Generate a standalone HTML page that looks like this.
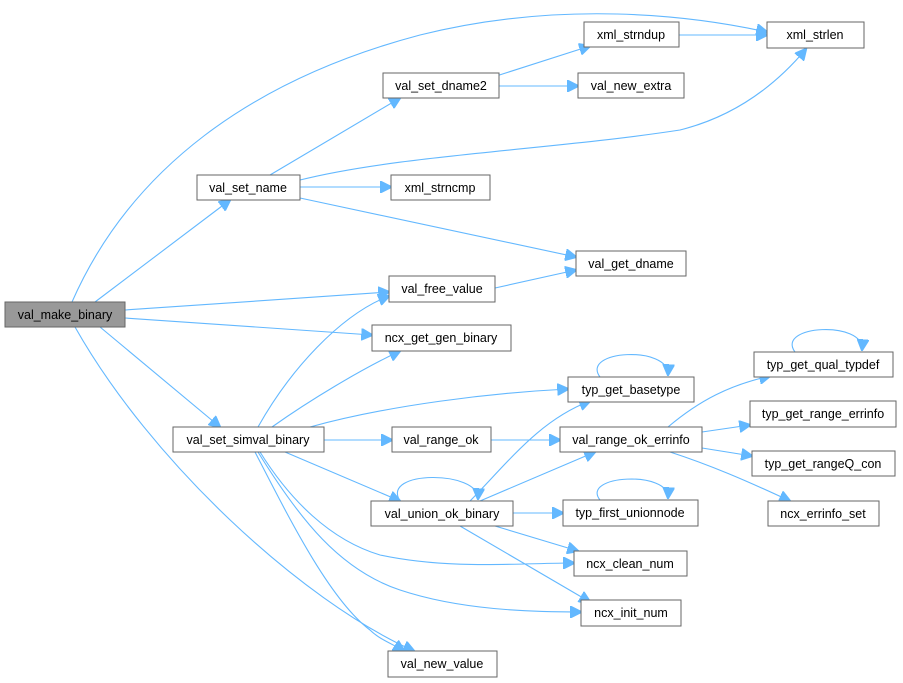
<!DOCTYPE html>
<html><head><meta charset="utf-8"><style>
html,body{margin:0;padding:0;background:#fff;}
svg{display:block}
text{font-family:"Liberation Sans",Arial,sans-serif;font-size:12.5px;fill:#000;text-anchor:middle}
.n{fill:#fff;stroke:#666;stroke-width:1}
.e{fill:none;stroke:#63b8ff;stroke-width:1.1}
</style></head><body>
<svg width="903" height="683" viewBox="0 0 903 683" xmlns="http://www.w3.org/2000/svg">
<defs><marker id="a" viewBox="0 0 10 10" refX="9" refY="5" markerWidth="12" markerHeight="12" markerUnits="userSpaceOnUse" orient="auto"><path d="M0,0 L10,5 L0,10 z" fill="#63b8ff" stroke="#63b8ff"/></marker></defs>
<g class="e" marker-end="url(#a)">
<path d="M72,302 C130,170 250,80 420,35 C560,0 690,15 767,32"/>
<path d="M95,302 L230,200"/>
<path d="M125,310 L389,292"/>
<path d="M125,318 L372,335"/>
<path d="M100,327 L220,427"/>
<path d="M75,327 C150,460 300,600 414,651"/>
<path d="M270,175 L400,98"/>
<path d="M300,187 L391,187"/>
<path d="M300,198 L576,257"/>
<path d="M300,180 C400,155 550,150 680,130 C740,115 780,80 806,49"/>
<path d="M490,78 L590,46"/>
<path d="M499,86 L578,86"/>
<path d="M679,35 L767,35"/>
<path d="M495,288 L576,270"/>
<path d="M258,427 C290,370 340,315 389,296"/>
<path d="M272,427 C310,400 360,370 400,351"/>
<path d="M310,427 C390,405 490,393 568,389"/>
<path d="M324,440 L392,440"/>
<path d="M491,440 L560,440"/>
<path d="M285,452 L400,501"/>
<path d="M260,452 C290,500 330,540 380,555 C450,570 520,563 574,563"/>
<path d="M258,452 C300,520 340,570 400,590 C460,610 530,612 581,612"/>
<path d="M255,452 C290,520 330,600 370,630 C380,640 395,645 404,651"/>
<path d="M470,501 C510,460 540,420 590,401"/>
<path d="M480,501 L595,452"/>
<path d="M513,513 L563,513"/>
<path d="M495,526 L578,551"/>
<path d="M460,526 L590,602"/>
<path d="M400,501 C380,470 480,470 478,499"/>
<path d="M600,377 C580,350 670,345 668,375"/>
<path d="M600,500 C580,475 670,470 668,498"/>
<path d="M795,352 C775,325 865,320 862,350"/>
<path d="M668,427 C700,400 730,385 770,376"/>
<path d="M702,432 L750,425"/>
<path d="M702,448 L752,456"/>
<path d="M670,452 C710,465 745,480 790,501"/>
</g>
<g>
<rect x="5" y="302" width="120" height="25" fill="#999" stroke="#666"/><text x="65" y="319">val_make_binary</text>
<rect class="n" x="197" y="175" width="103" height="25"/><text x="248" y="192">val_set_name</text>
<rect class="n" x="383" y="73" width="116" height="25"/><text x="441" y="90">val_set_dname2</text>
<rect class="n" x="584" y="22" width="95" height="25"/><text x="631" y="39">xml_strndup</text>
<rect class="n" x="767" y="22" width="97" height="26"/><text x="815" y="39">xml_strlen</text>
<rect class="n" x="578" y="73" width="106" height="25"/><text x="631" y="90">val_new_extra</text>
<rect class="n" x="391" y="175" width="99" height="25"/><text x="440" y="192">xml_strncmp</text>
<rect class="n" x="576" y="251" width="110" height="25"/><text x="631" y="268">val_get_dname</text>
<rect class="n" x="389" y="276" width="106" height="26"/><text x="442" y="293">val_free_value</text>
<rect class="n" x="372" y="325" width="139" height="26"/><text x="441" y="342">ncx_get_gen_binary</text>
<rect class="n" x="568" y="377" width="126" height="25"/><text x="631" y="394">typ_get_basetype</text>
<rect class="n" x="173" y="427" width="151" height="25"/><text x="248" y="444">val_set_simval_binary</text>
<rect class="n" x="392" y="427" width="99" height="25"/><text x="441" y="444">val_range_ok</text>
<rect class="n" x="560" y="427" width="142" height="25"/><text x="631" y="444">val_range_ok_errinfo</text>
<rect class="n" x="754" y="352" width="139" height="25"/><text x="823" y="369">typ_get_qual_typdef</text>
<rect class="n" x="750" y="401" width="146" height="26"/><text x="823" y="418">typ_get_range_errinfo</text>
<rect class="n" x="752" y="451" width="143" height="25"/><text x="823" y="468">typ_get_rangeQ_con</text>
<rect class="n" x="768" y="501" width="111" height="25"/><text x="823" y="518">ncx_errinfo_set</text>
<rect class="n" x="371" y="501" width="142" height="25"/><text x="442" y="518">val_union_ok_binary</text>
<rect class="n" x="563" y="500" width="135" height="26"/><text x="630" y="517">typ_first_unionnode</text>
<rect class="n" x="574" y="551" width="113" height="25"/><text x="630" y="568">ncx_clean_num</text>
<rect class="n" x="581" y="600" width="100" height="26"/><text x="631" y="617">ncx_init_num</text>
<rect class="n" x="388" y="651" width="109" height="26"/><text x="442" y="668">val_new_value</text>
</g>
</svg>
</body></html>
